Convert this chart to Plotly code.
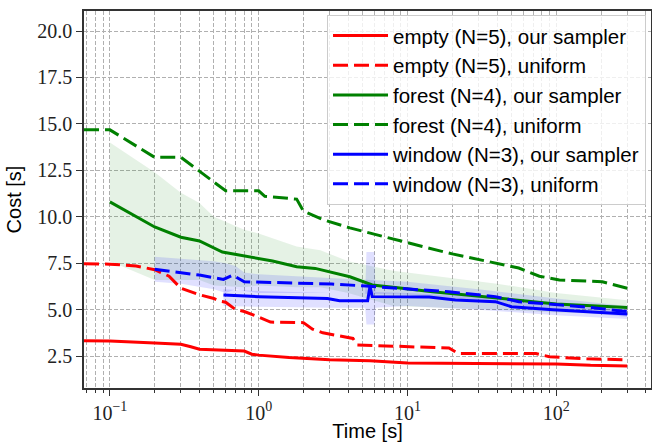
import plotly.graph_objects as go

# ---------------- data ----------------
empty_ours_t = [0.067, 0.1, 0.2, 0.3, 0.35, 0.4, 0.8, 0.9, 1.0, 1.6, 3, 5.6, 10, 30, 100, 170, 300]
empty_ours_v = [3.32, 3.31, 3.2, 3.13, 3.0, 2.87, 2.77, 2.6, 2.55, 2.42, 2.3, 2.25, 2.12, 2.1, 2.07, 2.0, 1.97]

empty_unif_t = [0.067, 0.1, 0.15, 0.2, 0.25, 0.3, 0.4, 0.5, 0.55, 0.6, 0.7, 0.8, 1.0, 1.2, 2.0, 2.3, 2.7, 3.5, 4.3, 4.6, 10, 19, 22, 73, 90, 160, 300]
empty_unif_v = [7.47, 7.45, 7.35, 7.15, 6.8, 6.15, 5.8, 5.6, 5.45, 5.4, 5.0, 4.9, 4.6, 4.33, 4.3, 3.95, 3.75, 3.6, 3.45, 3.1, 3.0, 2.93, 2.64, 2.64, 2.46, 2.35, 2.3]

forest_ours_t = [0.1, 0.2, 0.3, 0.4, 0.57, 0.9, 1.24, 1.8, 2.4, 4.1, 5.8, 8.9, 14.7, 25, 39, 100, 300]
forest_ours_v = [10.8, 9.45, 8.9, 8.7, 8.1, 7.8, 7.62, 7.31, 7.22, 6.77, 6.33, 6.16, 5.96, 5.79, 5.62, 5.3, 5.12]
forest_ours_hi_t = [0.1, 0.2, 0.3, 0.4, 0.5, 0.8, 1.0, 1.8, 2.6, 4, 8, 20, 40, 100, 300]
forest_ours_hi = [14.0, 12.4, 11.3, 10.74, 10.0, 9.3, 9.1, 8.4, 8.2, 7.6, 7.1, 6.7, 6.4, 5.9, 5.5]
forest_ours_lo = [7.6, 6.6, 6.6, 6.6, 6.3, 6.2, 6.3, 6.2, 6.2, 5.9, 5.2, 5.1, 5.0, 4.85, 4.75]

forest_unif_t = [0.067, 0.1, 0.2, 0.3, 0.6, 0.65, 1.0, 1.1, 1.8, 2.0, 2.7, 4.1, 5.5, 7.6, 9.3, 12.6, 20, 34, 56, 77, 105, 204, 300]
forest_unif_v = [14.68, 14.68, 13.2, 13.2, 11.4, 11.4, 11.4, 11.1, 10.95, 10.3, 9.85, 9.4, 9.13, 8.86, 8.64, 8.4, 8.0, 7.6, 7.24, 6.8, 6.6, 6.5, 6.15]

window_ours_t = [0.58, 1.0, 2.9, 3.5, 5.4, 5.6, 5.8, 14, 21, 39, 50, 95, 300]
window_ours_v = [5.79, 5.7, 5.6, 5.48, 5.48, 6.25, 5.7, 5.68, 5.52, 5.43, 5.16, 5.0, 4.76]
window_ours_band_t = [0.58, 1, 3, 5.2, 5.3, 6.0, 6.1, 10, 30, 100, 300]
window_ours_hi = [6.1, 6.0, 5.9, 5.85, 8.1, 8.1, 5.95, 5.9, 5.7, 5.25, 5.0]
window_ours_lo = [5.2, 5.15, 5.1, 5.1, 4.2, 4.2, 5.1, 5.2, 5.0, 4.7, 4.5]

window_unif_t = [0.2, 0.3, 0.4, 0.58, 0.67, 0.8, 1.9, 3.1, 5.3, 9.3, 19, 39, 56, 160, 300]
window_unif_v = [7.17, 6.99, 6.86, 6.63, 6.86, 6.5, 6.41, 6.38, 6.27, 6.15, 5.96, 5.7, 5.43, 5.14, 4.89]
window_unif_band_t = [0.2, 0.3, 0.5, 0.6, 0.7, 0.8, 1, 3, 10, 30, 100, 300]
window_unif_hi = [7.85, 7.75, 7.6, 7.5, 7.35, 7.0, 6.9, 6.7, 6.5, 6.1, 5.6, 5.2]
window_unif_lo = [6.5, 6.4, 6.1, 5.9, 6.1, 6.0, 5.9, 5.9, 5.8, 5.4, 5.0, 4.6]

y_ticks = [2.5, 5.0, 7.5, 10.0, 12.5, 15.0, 17.5, 20.0]
x_ticks = [0.1, 1, 10, 100]
x_ticktext = ["10<sup>\u22121</sup>", "10<sup>0</sup>", "10<sup>1</sup>", "10<sup>2</sup>"]

RED, GREEN, BLUE = "#ff0000", "#008000", "#0000ff"
DASH = "15px,6px"

fig = go.Figure()

def band(t, lo, hi, color):
    fig.add_trace(go.Scatter(x=list(t) + list(t)[::-1], y=list(hi) + list(lo)[::-1],
                             fill="toself", fillcolor=color, line=dict(width=0),
                             mode="lines", showlegend=False, hoverinfo="skip"))

band(forest_ours_hi_t, forest_ours_lo, forest_ours_hi, "rgba(0,128,0,0.10)")
band(window_unif_band_t, window_unif_lo, window_unif_hi, "rgba(0,0,255,0.12)")
band(window_ours_band_t, window_ours_lo, window_ours_hi, "rgba(0,0,255,0.12)")

series = [
    ("empty (N=5), our sampler", empty_ours_t, empty_ours_v, RED, "solid"),
    ("empty (N=5), uniform", empty_unif_t, empty_unif_v, RED, DASH),
    ("forest (N=4), our sampler", forest_ours_t, forest_ours_v, GREEN, "solid"),
    ("forest (N=4), uniform", forest_unif_t, forest_unif_v, GREEN, DASH),
    ("window (N=3), our sampler", window_ours_t, window_ours_v, BLUE, "solid"),
    ("window (N=3), uniform", window_unif_t, window_unif_v, BLUE, DASH),
]
for i, (name, t, v, c, d) in enumerate(series):
    fig.add_trace(go.Scatter(x=t, y=v, mode="lines", name=name, legendgroup=str(i),
                             line=dict(color=c, width=3, dash=d)))

minor_vals = [m * 10 ** e for e in range(-2, 3) for m in range(2, 10)]

fig.update_layout(
    width=652, height=442,
    margin=dict(l=84, r=1, t=11, b=54, autoexpand=False),
    paper_bgcolor="white", plot_bgcolor="white",
    showlegend=True,
    legend=dict(x=0.4286, y=0.99, xanchor="left", yanchor="top",
                bgcolor="rgba(255,255,255,0.8)", bordercolor="#cccccc", borderwidth=1,
                font=dict(family="Liberation Sans", size=20.5, color="black"),
                itemwidth=55,
                tracegroupgap=2, traceorder="normal"),
    xaxis=dict(type="log", range=[-1.174, 2.637], automargin=False,
               tickvals=x_ticks, ticktext=x_ticktext,
               ticks="outside", ticklen=6, tickcolor="#333", tickwidth=1,
               showline=True, linecolor="#333", linewidth=1.5, mirror=True,
               showgrid=True, gridcolor="#b0b0b0", griddash="4px,2px", gridwidth=1,
               minor=dict(tickvals=minor_vals, ticks="outside", ticklen=3, tickcolor="#333",
                          showgrid=True, gridcolor="#b0b0b0", griddash="4px,2px", gridwidth=1),
               tickfont=dict(family="Liberation Serif", size=20, color="#222"),
               title=dict(text="Time [s]", font=dict(family="Liberation Sans", size=20, color="black"),
                          standoff=2),
               zeroline=False),
    yaxis=dict(range=[0.78, 21.08], tickvals=y_ticks, tickformat=".1f", automargin=False,
               ticks="outside", ticklen=6, tickcolor="#333", tickwidth=1,
               showline=True, linecolor="#333", linewidth=1.5, mirror=True,
               showgrid=True, gridcolor="#b0b0b0", griddash="4px,2px", gridwidth=1,
               tickfont=dict(family="Liberation Serif", size=20, color="#222"),
               title=dict(text="Cost [s]", font=dict(family="Liberation Sans", size=20, color="black"),
                          standoff=10),
               zeroline=False),
)

fig.write_html("out.html", config={"displayModeBar": False},
               post_script="document.body.style.margin='0px';document.body.style.overflow='hidden';")
